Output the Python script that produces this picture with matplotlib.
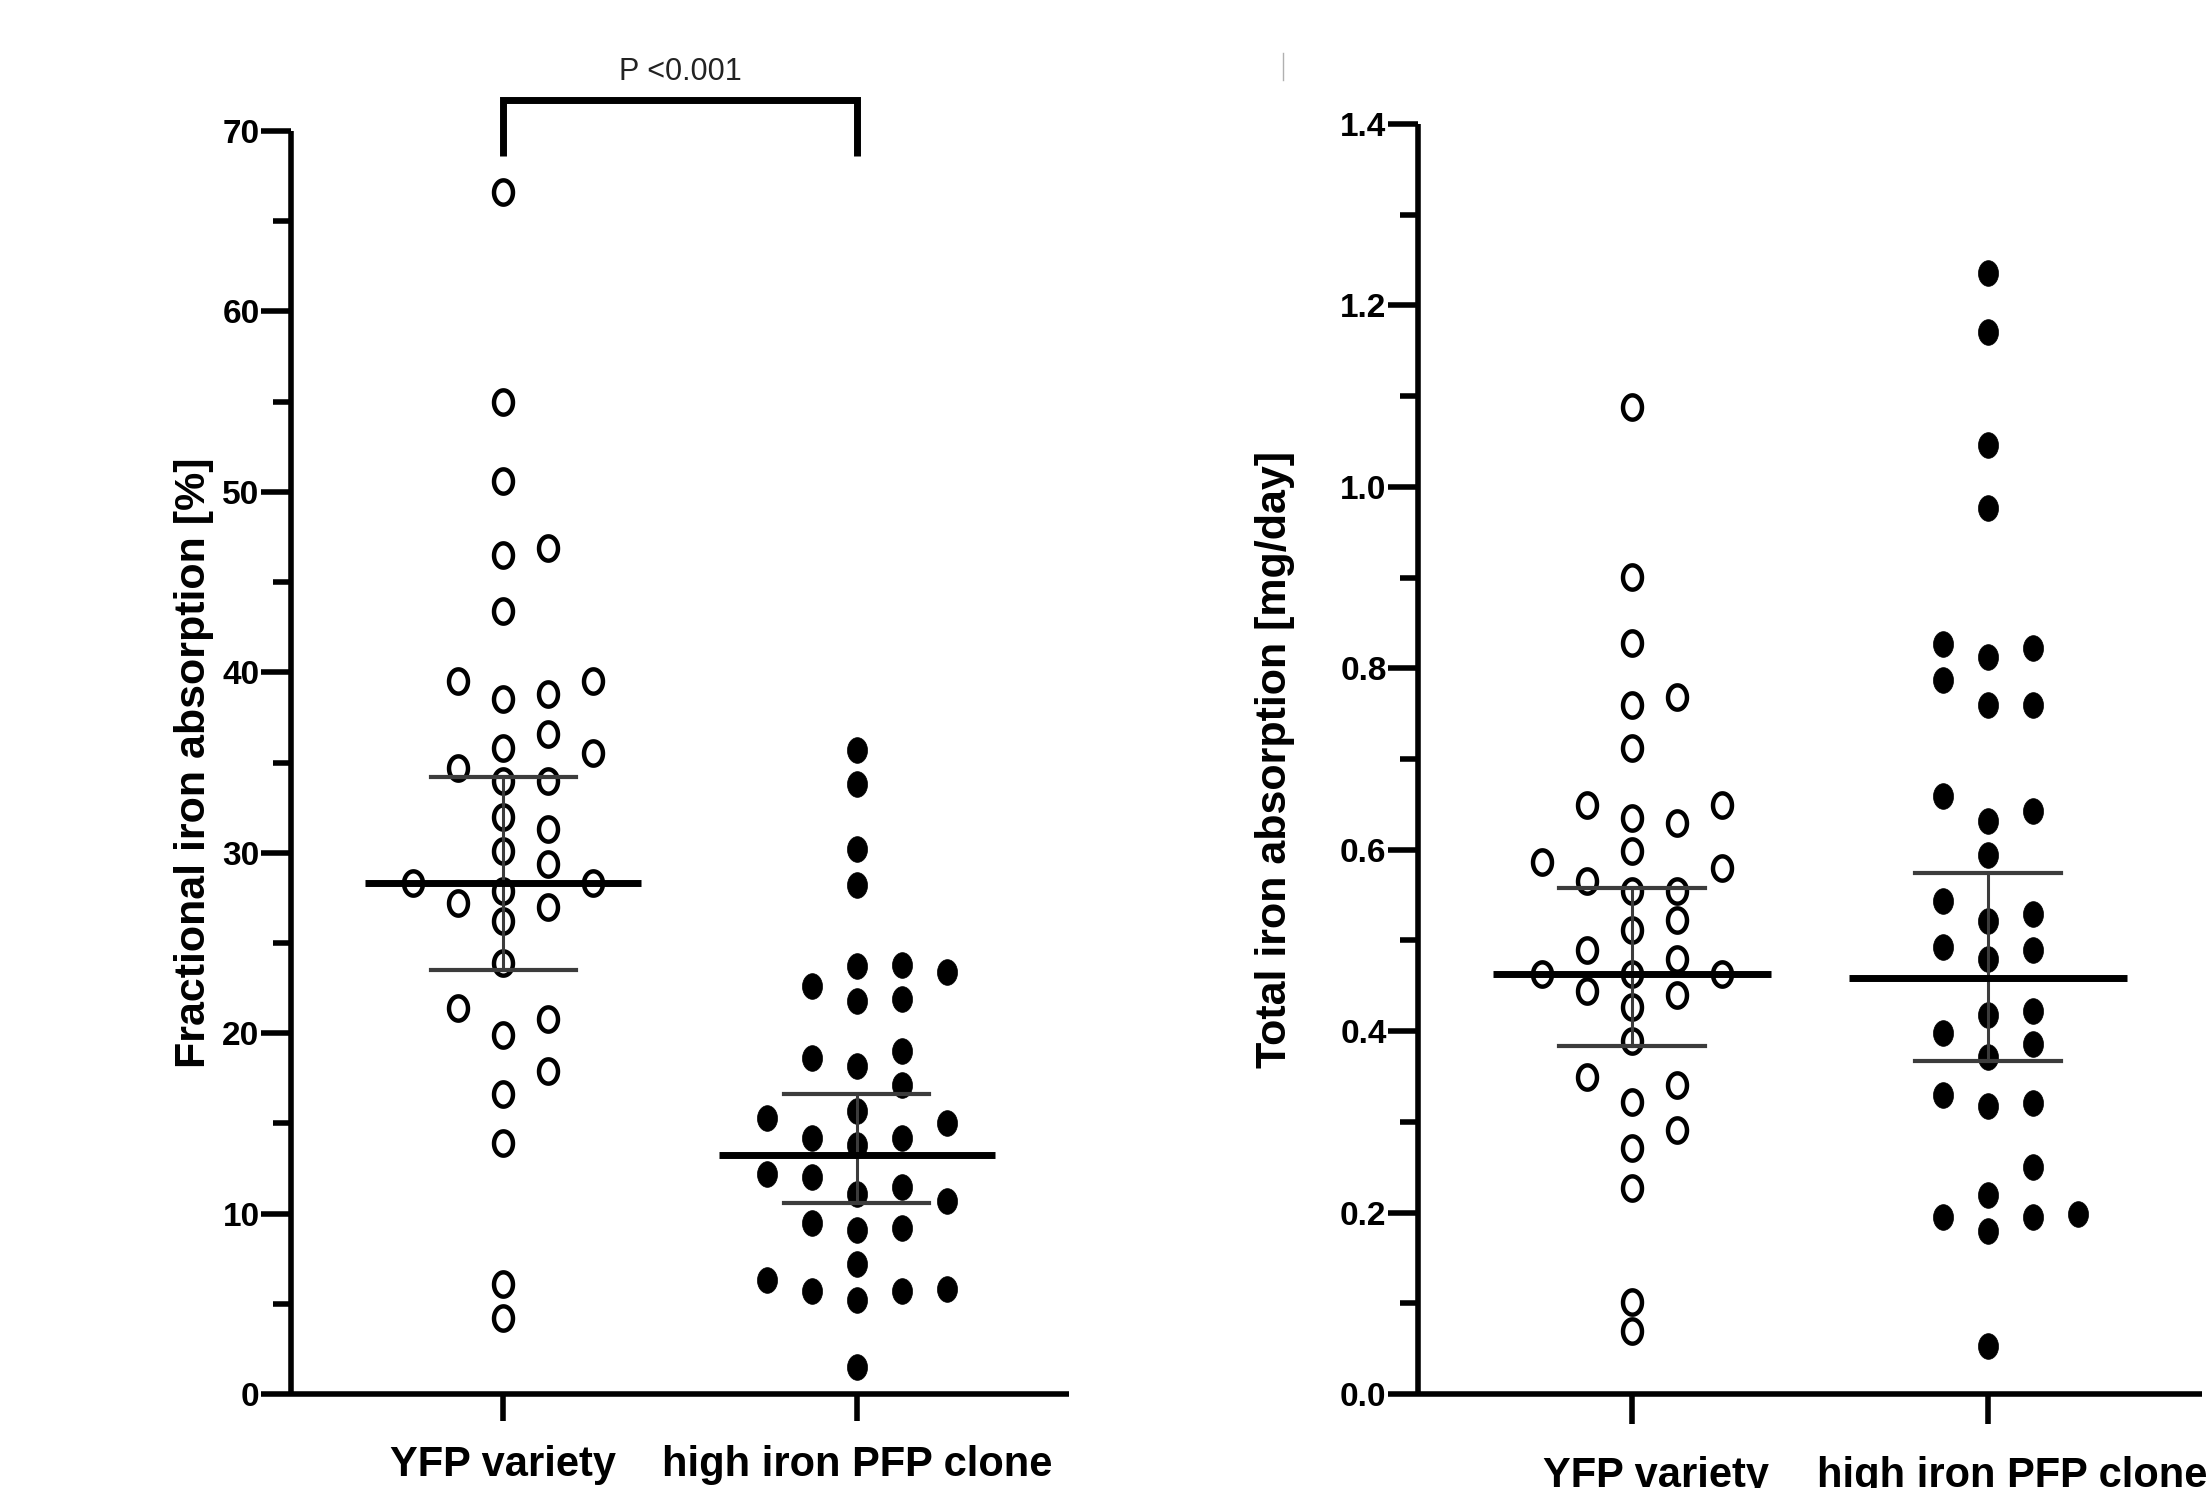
import numpy as np
import matplotlib
matplotlib.use("Agg")
import matplotlib.pyplot as plt
from matplotlib.path import Path
from matplotlib.markers import MarkerStyle
from matplotlib.ticker import MultipleLocator, FormatStrFormatter
from matplotlib.transforms import ScaledTranslation

plt.rcParams['font.family'] = ['Liberation Sans', 'DejaVu Sans']

# ---------------- data ----------------
categories = ["YFP variety", "high iron PFP clone"]

frac_yfp = [66.6, 55.0, 50.6, 46.9, 46.5, 43.4, 39.5, 39.5, 38.8, 38.5,
            36.6, 35.8, 35.5, 34.7, 34.0, 34.0, 32.0, 31.3, 30.1, 29.4,
            28.3, 28.3, 27.9, 27.2, 27.0, 26.2, 23.9, 21.4, 20.8, 19.9,
            17.9, 16.6, 13.9, 6.1, 4.2]
frac_pfp = [35.7, 33.8, 30.2, 28.2, 23.8, 23.7, 23.4, 22.6, 21.9, 21.8,
            19.0, 18.6, 18.2, 17.1, 15.7, 15.3, 15.0, 14.2, 14.2, 13.8,
            12.2, 12.0, 11.5, 11.1, 10.7, 9.5, 9.2, 9.1, 7.2, 6.3,
            5.8, 5.7, 5.7, 5.2, 1.5]
frac_center = [28.3, 13.25]
frac_lower = [23.5, 10.6]
frac_upper = [34.2, 16.6]

tot_yfp = [1.088, 0.901, 0.828, 0.768, 0.760, 0.712, 0.649, 0.649, 0.635, 0.630,
           0.599, 0.586, 0.580, 0.566, 0.555, 0.555, 0.522, 0.512, 0.490, 0.479,
           0.463, 0.463, 0.463, 0.444, 0.440, 0.427, 0.389, 0.350, 0.341, 0.322,
           0.291, 0.271, 0.227, 0.101, 0.069]
tot_pfp = [1.236, 1.171, 1.046, 0.977, 0.827, 0.822, 0.812, 0.787, 0.759, 0.759,
           0.659, 0.643, 0.632, 0.594, 0.544, 0.529, 0.521, 0.493, 0.490, 0.479,
           0.422, 0.418, 0.398, 0.386, 0.372, 0.330, 0.321, 0.317, 0.250, 0.219,
           0.198, 0.195, 0.195, 0.180, 0.053]
tot_center = [0.463, 0.459]
tot_lower = [0.384, 0.367]
tot_upper = [0.558, 0.574]

frac_ylabel = "Fractional iron absorption [%]"
tot_ylabel = "Total iron absorption [mg/day]"
p_text = "P <0.001"

# ---------------- figure ----------------
W, H, DPI = 2206, 1488, 100
fig = plt.figure(figsize=(W / DPI, H / DPI), dpi=DPI)

def fig_rect(x0, x1, ytop, ybot):
    return [x0 / W, 1 - ybot / H, (x1 - x0) / W, (ybot - ytop) / H]

axL = fig.add_axes(fig_rect(291, 1069, 131, 1394))
axR = fig.add_axes(fig_rect(1418, 2202, 124, 1394))

# tall ellipse marker
th = np.linspace(0, 2 * np.pi, 64)
ell = Path(np.column_stack([0.78 * np.cos(th), np.sin(th)]), closed=True)
ell_marker = MarkerStyle(ell)

tick_font = ['Liberation Sans Narrow', 'Liberation Sans', 'DejaVu Sans']


def swarm_x(ax, values, center, step_px=45.0, min_dy=29.0):
    vals = np.asarray(values, dtype=float)
    t = ax.transData
    ypix = t.transform(np.column_stack([np.full(len(vals), center), vals]))[:, 1]
    px_per_x = t.transform([[1, 0]])[0, 0] - t.transform([[0, 0]])[0, 0]
    order = np.argsort(vals, kind="stable")
    placed = []
    cols = np.zeros(len(vals))
    cands = [0, 1, -1, 2, -2, 3, -3, 4, -4, 5, -5]
    for i in order:
        chosen = cands[-1]
        for c in cands:
            if all(not (pc == c and abs(py - ypix[i]) < min_dy) for pc, py in placed):
                chosen = c
                break
        placed.append((chosen, ypix[i]))
        cols[i] = chosen
    return center + cols * step_px / px_per_x


def setup(ax, ylim, major, minor, fmt, ylabel, label_x, xpad, xlen):
    ax.set_xlim(-0.6, 1.6)
    ax.set_ylim(*ylim)
    for s in ["top", "right"]:
        ax.spines[s].set_visible(False)
    for s in ["left", "bottom"]:
        ax.spines[s].set_linewidth(4)
        ax.spines[s].set_capstyle("butt")
    ax.yaxis.set_major_locator(MultipleLocator(major))
    ax.yaxis.set_minor_locator(MultipleLocator(minor))
    ax.yaxis.set_major_formatter(FormatStrFormatter(fmt))
    ax.set_xticks([0, 1])
    ax.set_xticklabels(categories, fontsize=30, fontweight="bold")
    ax.tick_params(axis="y", which="major", length=21.6, width=4, pad=1, labelsize=24)
    ax.tick_params(axis="y", which="minor", length=13, width=4)
    ax.tick_params(axis="x", which="major", length=xlen, width=4, pad=xpad)
    for lbl in ax.get_yticklabels():
        lbl.set_fontfamily(tick_font)
        lbl.set_fontweight("bold")
    ax.set_ylabel(ylabel, fontsize=31, fontweight="bold")
    ax.yaxis.set_label_coords(label_x, 0.5)


def draw_group(ax, yfp, pfp, center, lower, upper):
    xs0 = swarm_x(ax, yfp, 0)
    xs1 = swarm_x(ax, pfp, 1)
    ax.plot(xs0, yfp, linestyle="none", marker=ell_marker, markersize=17.5,
            markerfacecolor="none", markeredgecolor="black", markeredgewidth=3.2,
            zorder=3, clip_on=False)
    ax.plot(xs1, pfp, linestyle="none", marker=ell_marker, markersize=18.5,
            markerfacecolor="black", markeredgecolor="black", markeredgewidth=0.5,
            zorder=3, clip_on=False)
    for i in range(2):
        ax.plot([i, i], [lower[i], upper[i]], color="#3c3c3c", lw=2.2, zorder=4)
        ax.plot([i - 0.205, i + 0.205], [upper[i], upper[i]], color="#3c3c3c", lw=3, zorder=4)
        ax.plot([i - 0.205, i + 0.205], [lower[i], lower[i]], color="#3c3c3c", lw=3, zorder=4)
        ax.plot([i - 0.39, i + 0.39], [center[i], center[i]], color="black", lw=5,
                zorder=5, solid_capstyle="butt")


setup(axL, (0, 70), 10, 5, "%d", frac_ylabel, -0.099, 17, 19.5)
setup(axR, (0, 1.4), 0.2, 0.1, "%.1f", tot_ylabel, -0.157, 23, 21.6)

# right-panel category labels sit a little to the right of their ticks
shift = ScaledTranslation(24 / DPI, 0, fig.dpi_scale_trans)
for lbl in axR.get_xticklabels():
    lbl.set_transform(lbl.get_transform() + shift)

draw_group(axL, frac_yfp, frac_pfp, frac_center, frac_lower, frac_upper)
draw_group(axR, tot_yfp, tot_pfp, tot_center, tot_lower, tot_upper)

# significance bracket
axL.plot([0, 0, 1, 1], [68.6, 71.7, 71.7, 68.6], color="black", lw=5,
         clip_on=False, solid_joinstyle="miter", solid_capstyle="butt")
axL.text(0.5, 72.8, p_text, ha="center", va="baseline", fontsize=22,
         family=['Liberation Sans Narrow', 'Liberation Sans', 'DejaVu Sans'],
         color="#222222", clip_on=False)

# faint stray mark in original
fig.add_artist(plt.Line2D([1283 / W, 1283 / W], [1 - 53 / H, 1 - 80 / H],
                          color="#b0b0b0", lw=1))

fig.savefig("out.png", dpi=DPI, facecolor="white")
